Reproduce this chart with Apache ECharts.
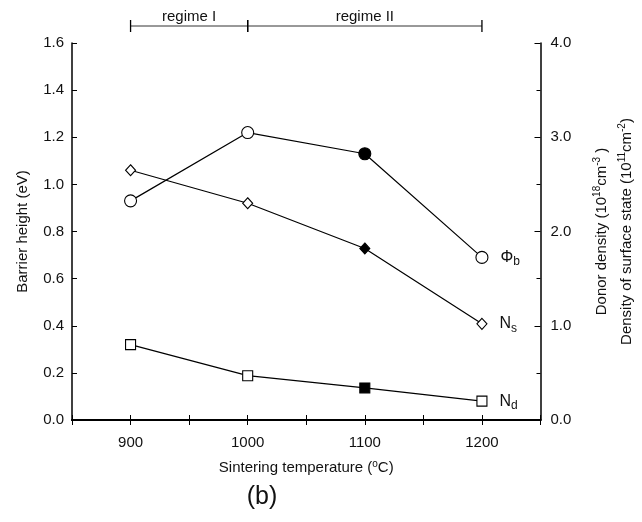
<!DOCTYPE html>
<html>
<head>
<meta charset="utf-8">
<script src="https://cdn.jsdelivr.net/npm/echarts@6/dist/echarts.min.js"></script>
<style>
html,body{margin:0;padding:0;background:#fff;}
#chart{width:642px;height:522px;}
</style>
</head>
<body>
<div id="chart"></div>
<script>
// ---- data ----
const temperatures = [900, 1000, 1100, 1200];
const barrierHeight = [0.93, 1.22, 1.13, 0.69];   // Φb (eV), left axis
const surfaceState = [2.65, 2.30, 1.82, 1.02];    // Ns (1e11 cm^-2), right axis
const donorDensity = [0.80, 0.47, 0.34, 0.20];    // Nd (1e18 cm^-3), right axis
const filledIndex = 2;                            // 1100 °C points drawn filled
const xTickLabels = [900, 1000, 1100, 1200];
const regimes = [
  { name: 'regime I', from: 900, to: 1000 },
  { name: 'regime II', from: 1000, to: 1200 }
];

const FONT = 'Liberation Sans, Arial, sans-serif';
const chart = echarts.init(document.getElementById('chart'), null, { renderer: 'canvas' });

function makeData(vals, labelRich) {
  return temperatures.map((t, i) => {
    const d = { value: [t, vals[i]] };
    if (i === filledIndex) d.itemStyle = { color: '#000' };
    if (i === vals.length - 1) d.label = labelRich;
    return d;
  });
}
const subRich = {
  a: { fontSize: 16, fontFamily: FONT, color: '#111' },
  s: { fontSize: 12, fontFamily: FONT, color: '#111', padding: [9, 0, 0, 0] }
};
function endLabel(text) {
  return { show: true, position: 'right', distance: 12, formatter: text, rich: subRich };
}
const lineStyle = { color: '#000', width: 1.2 };
const itemBase = { color: '#fff', borderColor: '#000', borderWidth: 1.1 };

const supRich = {
  t: { fontSize: 15, fontFamily: FONT, color: '#111' },
  p: { fontSize: 10, fontFamily: FONT, color: '#111', padding: [0, 0, 8, 0] }
};

const option = {
  animation: false,
  backgroundColor: '#fff',
  textStyle: { fontFamily: FONT },
  grid: { left: 72, right: 97, top: 43, bottom: 102 },
  xAxis: [{
    type: 'value', min: 850, max: 1250, interval: 50,
    axisLine: { lineStyle: { color: '#000', width: 2 } },
    axisTick: { inside: true, length: 5, lineStyle: { color: '#000' } },
    axisLabel: { fontSize: 15, color: '#111', margin: 15, fontFamily: FONT,
      formatter: v => (xTickLabels.indexOf(v) >= 0 ? String(v) : '') },
    splitLine: { show: false },
    name: '{t|Sintering temperature (}{p|o}{t|C)}',
    nameLocation: 'middle', nameGap: 39,
    nameTextStyle: { rich: supRich }
  }, {
    type: 'value', min: 850, max: 1250, interval: 50, position: 'top',
    axisLine: { lineStyle: { color: '#000', width: 2 } },
    axisTick: { inside: true, length: 5, lineStyle: { color: '#000' } },
    axisLabel: { show: false }, splitLine: { show: false }
  }],
  yAxis: [{
    type: 'value', min: 0, max: 1.6, interval: 0.2,
    axisLine: { lineStyle: { color: '#000', width: 1.5 } },
    axisTick: { inside: true, length: 5, lineStyle: { color: '#000' } },
    axisLabel: { fontSize: 15, color: '#111', margin: 8, fontFamily: FONT, formatter: v => v.toFixed(1) },
    splitLine: { show: false },
    name: 'Barrier height (eV)', nameLocation: 'middle', nameGap: 42, nameRotate: 90,
    nameTextStyle: { fontSize: 15, color: '#111', fontFamily: FONT }
  }, {
    type: 'value', min: 0, max: 4, interval: 1, position: 'right',
    axisLine: { show: true, lineStyle: { color: '#000', width: 1.5 } },
    axisTick: { inside: true, length: 6, lineStyle: { color: '#000' } },
    minorTick: { show: true, splitNumber: 2, length: 4, lineStyle: { color: '#000' } },
    axisLabel: { fontSize: 15, color: '#111', margin: 10, fontFamily: FONT, formatter: v => v.toFixed(1) },
    splitLine: { show: false },
    name: '{t|Donor density (10}{p|18}{t|cm}{p|-3}{t| )}', nameLocation: 'middle', nameGap: 52, nameRotate: 90,
    nameTextStyle: { rich: supRich }
  }, {
    type: 'value', min: 0, max: 4, interval: 1, position: 'right',
    axisLine: { show: false }, axisTick: { show: false }, axisLabel: { show: false },
    splitLine: { show: false },
    name: '{t|Density of surface state (10}{p|11}{t|cm}{p|-2}{t|)}', nameLocation: 'middle', nameGap: 77, nameRotate: 90,
    nameTextStyle: { rich: supRich }
  }],
  series: [{
    name: 'Φb', type: 'line', xAxisIndex: 0, yAxisIndex: 0,
    data: makeData(barrierHeight, endLabel('{a|Φ}{s|b}')),
    symbol: 'circle', symbolSize: 12,
    lineStyle: lineStyle, itemStyle: itemBase
  }, {
    name: 'Ns', type: 'line', xAxisIndex: 0, yAxisIndex: 1,
    data: makeData(surfaceState, endLabel('{a|N}{s|s}')),
    symbol: 'diamond', symbolSize: [10, 11],
    lineStyle: lineStyle, itemStyle: itemBase
  }, {
    name: 'Nd', type: 'line', xAxisIndex: 0, yAxisIndex: 1,
    data: makeData(donorDensity, endLabel('{a|N}{s|d}')),
    symbol: 'rect', symbolSize: 10,
    lineStyle: lineStyle, itemStyle: itemBase
  }]
};
option.grid.right = 94;
chart.setOption(option);

// regime brackets above the plot, positioned through the x axis scale
const yLine = 26;
const graphics = [];
regimes.forEach(r => {
  const x1 = chart.convertToPixel({ xAxisIndex: 0 }, r.from);
  const x2 = chart.convertToPixel({ xAxisIndex: 0 }, r.to);
  graphics.push({ type: 'line', shape: { x1: x1, y1: yLine, x2: x2, y2: yLine }, style: { stroke: '#333', lineWidth: 1 } });
  graphics.push({ type: 'line', shape: { x1: x1, y1: yLine - 6, x2: x1, y2: yLine + 6 }, style: { stroke: '#000', lineWidth: 1.3 } });
  graphics.push({ type: 'line', shape: { x1: x2, y1: yLine - 6, x2: x2, y2: yLine + 6 }, style: { stroke: '#000', lineWidth: 1.3 } });
  graphics.push({ type: 'text', x: (x1 + x2) / 2, y: yLine - 2,
    style: { text: r.name, fontSize: 15, fontFamily: FONT, fill: '#111', align: 'center', verticalAlign: 'bottom' } });
});
graphics.push({ type: 'text', x: 262, y: 497,
  style: { text: '(b)', fontSize: 25, fontFamily: FONT, fill: '#111', align: 'center', verticalAlign: 'middle' } });
chart.setOption({ graphic: graphics });
</script>
</body>
</html>
